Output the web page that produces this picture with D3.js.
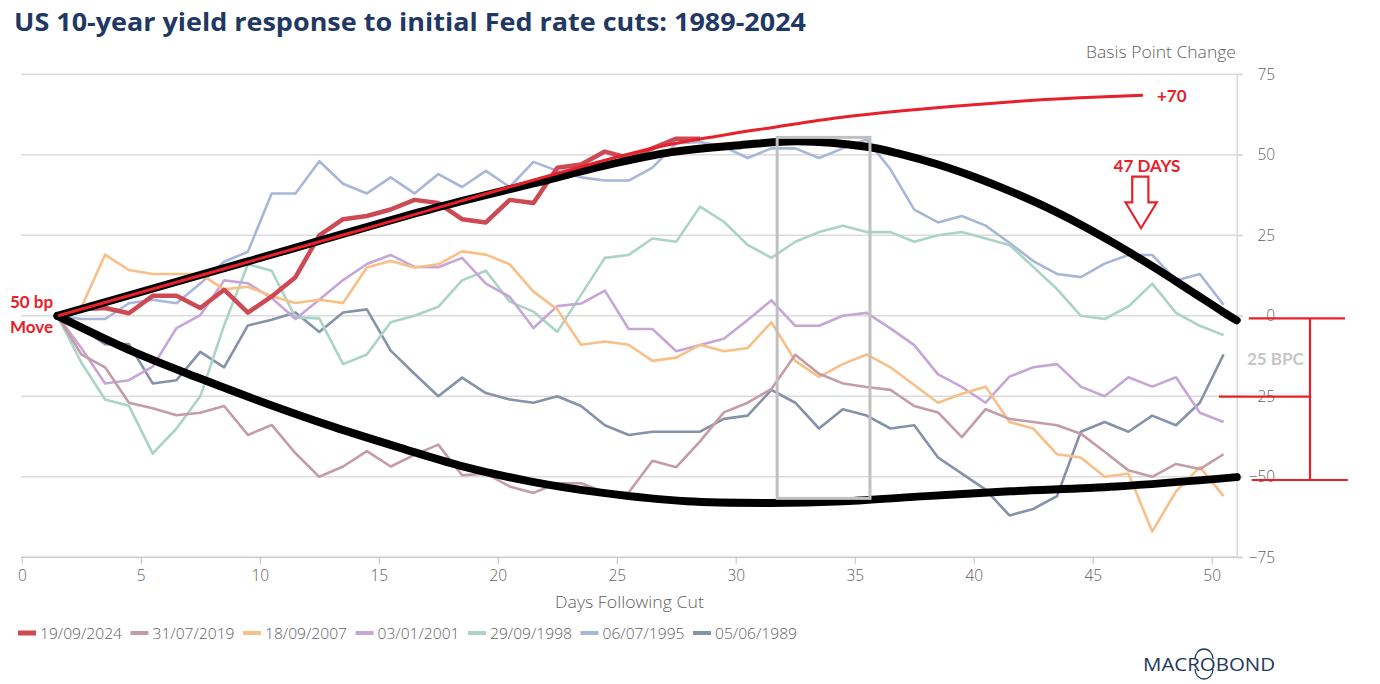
<!DOCTYPE html>
<html><head><meta charset="utf-8">
<script src="https://cdn.jsdelivr.net/npm/d3@7"></script>
<style>
body{margin:0;background:#fff;}
svg{display:block;font-family:'Open Sans',sans-serif;}
</style></head><body>
<svg id="chart" width="1380" height="684"></svg>
<script>
// ---------------- DATA ----------------
const days = [1.5,2.5,3.5,4.5,5.5,6.5,7.5,8.5,9.5,10.5,11.5,12.5,13.5,14.5,15.5,16.5,17.5,18.5,19.5,20.5,
  21.5,22.5,23.5,24.5,25.5,26.5,27.5,28.5,29.5,30.5,31.5,32.5,33.5,34.5,35.5,36.5,37.5,38.5,39.5,40.5,
  41.5,42.5,43.5,44.5,45.5,46.5,47.5,48.5,49.5,50.5];
const seriesNames = ["19/09/2024","31/07/2019","18/09/2007","03/01/2001","29/09/1998","06/07/1995","05/06/1989"];
const seriesColors = ["#cd4a55","#c49ca6","#f9bf88","#c6a6d6","#aad4c5","#a8b6d8","#8592aa"];
const cut2024 = [0,2,2.4,0.8,6.2,6.2,2.4,8.1,1,6,12,25,30,31,33,36,35,30,29,36,35,46,47,51,49,52,55,55];
const cut2019 = [0,-12,-16,-27,-28.7,-30.9,-30.1,-28,-37,-33.9,-42.7,-50,-46.8,-42,-46.8,-43.2,-40,-49.5,-49,-53,
  -55,-52,-52,-54.8,-54.9,-45,-47,-39,-30,-27,-22.7,-12.1,-18,-21,-22.1,-23,-28,-30,-37.7,-29,
  -32,-33,-34,-36.6,-42.2,-48,-50,-46,-47.6,-43];
const cut2007 = [0,2.6,19,14.2,13,13,13,8.2,9,6.1,4,5,4,15,17,15,16,20,19,16,
  7.5,2,-9,-8,-9,-14,-13,-9,-11,-10,-2,-14,-19,-15,-12,-16,-21.5,-27,-24.2,-22,
  -33,-35,-43,-44,-50,-49,-67,-54.5,-47,-56];
const cut2001 = [0,-10,-21,-20,-15.8,-3.8,0.2,11,10.1,5.5,-1,5,11.1,16.1,18.9,15.2,15.1,18,10,5.9,
  -3.8,3,3.8,7.8,-4.1,-4.1,-11,-9.1,-7.1,-1.3,4.8,-3.1,-3.1,0,0.9,-3.9,-9.1,-18.2,-22.1,-27,
  -18.9,-16,-15,-22,-25,-19.1,-22,-19.1,-30.1,-33];
const cut1998 = [0,-14.5,-26,-27.9,-42.8,-35,-25,-3,16,14,-0.5,-0.8,-15,-12,-2,0,2.8,11,14,4.4,
  1.3,-5,6.5,18,18.9,24,23,33.9,29.2,22,18,23,26,28,26,26,23,25,26,24,
  22,15.2,8.3,0,-1,2.9,10,0.9,-3.1,-6];
const cut1995 = [0,-1,-1,3.9,5,3.9,10,16.8,19.9,38,38,48,41,38,43,38,44,40,45,40,
  47.8,45,43,42,42,46,53.5,54,52.5,49,52,52,49,52,54.8,45.5,33,29,31,28,
  22.7,17,13,12,16.2,18.9,18.9,11,13,3.4];
const cut1989 = [0,-4,-8.8,-8.8,-21,-20,-11.2,-16,-3,-1.2,1,-5,1,2,-10.8,-18,-25,-19.2,-24,-26,
  -27,-25,-28,-34,-37,-36,-36,-36,-32,-31,-23,-27,-35,-29,-31,-35,-34,-44,-49,-54,
  -62,-60,-56,-36,-33,-36,-31,-34,-27,-12];
const seriesValues = [cut2024,cut2019,cut2007,cut2001,cut1998,cut1995,cut1989];

const xTicks = [0,5,10,15,20,25,30,35,40,45,50];
const yTicks = [75,50,25,0,-25,-50,-75];

// hand-drawn annotation curves (day, bp)
const upperTrendX = [1.5,9.5,17.57,21.49,24.58,27.37,30.18,32.6,35.5,36.9,38.5,40,41.5,43,44.5,46,47.5,49,50.5,51.05];
const upperTrendY = [0,16.9,33.9,41.1,46.8,50.9,53,54.2,52.5,50.3,47,43.2,38.8,33.9,28.3,22.1,15.4,8.3,1.1,-1.4];
const lowerTrendX = [1.5,4.7,7.5,10.3,13.1,15.9,18.4,21.35,24.43,27.94,31.44,34.52,38.02,41.52,46,51.05];
const lowerTrendY = [0,-11.2,-19.5,-27.3,-34.5,-41,-46.5,-51.4,-55,-57.6,-58.1,-57.6,-56,-54.5,-53,-50.1];
const redTrendX = [1.52,13.8,26.18,29.46,31.56,34.38,36.9,41.65,44.46,47.11];
const redTrendY = [0,25.7,51.5,56.1,58.5,61.6,63.6,66.5,67.7,68.5];
const boxX = [31.74,35.64];
const boxY = [55.4,-56.7];

// ---------------- CHART ----------------
const svg = d3.select("#chart");
const x = d3.scaleLinear().domain([0,51.05]).range([21.8,1236.7]);
const y = d3.scaleLinear().domain([-75,75]).range([557.3,74.3]);
const RED = "#e8202a";
const GREY_TXT = "#5f5f5f";

// gridlines
svg.append("g").selectAll("line").data(yTicks.filter(v=>v>-75)).join("line")
  .attr("x1",21).attr("x2",1243).attr("y1",d=>y(d)).attr("y2",d=>y(d))
  .attr("stroke","#dcdcdc").attr("stroke-width",1.4);

// x axis
const xAxis = svg.append("g").attr("transform",`translate(0,${y(-75)})`)
  .call(d3.axisBottom(x).tickValues(xTicks).tickSize(7).tickSizeOuter(0).tickPadding(6));
xAxis.select(".domain").attr("d",`M21,0H1243`).attr("stroke","#c9c9c9").attr("stroke-width",1.4);
xAxis.selectAll(".tick line").attr("stroke","#c9c9c9").attr("stroke-width",1.2);
xAxis.selectAll(".tick text").attr("font-size",15.5).attr("font-weight",300).attr("fill",GREY_TXT)
  .attr("font-family","'Open Sans',sans-serif");

// right y axis
const yAxis = svg.append("g").attr("transform",`translate(${x(51.05)},0)`)
  .call(d3.axisRight(y).tickValues(yTicks).tickSize(6).tickSizeOuter(0));
yAxis.select(".domain").attr("stroke","#d9d9d9").attr("stroke-width",1.4);
yAxis.selectAll(".tick line").attr("stroke","#d9d9d9").attr("stroke-width",1.4);
yAxis.selectAll(".tick text").attr("x",38.5).attr("text-anchor","end").attr("font-size",15.5)
  .attr("font-weight",300).attr("fill",GREY_TXT).attr("font-family","'Open Sans',sans-serif");

svg.append("text").attr("x",1086).attr("y",58)
  .attr("font-size",15.5).attr("font-weight",300).attr("fill",GREY_TXT)
  .attr("textLength",150).attr("lengthAdjust","spacingAndGlyphs").text("Basis Point Change");
svg.append("text").attr("x",555).attr("y",608)
  .attr("font-size",15.5).attr("font-weight",300).attr("fill",GREY_TXT)
  .attr("textLength",149).attr("lengthAdjust","spacingAndGlyphs").text("Days Following Cut");

// series
const line = d3.line().x(d=>x(d[0])).y(d=>y(d[1]));
const order = [6,5,4,3,2,1,0];
svg.append("g").selectAll("path").data(order).join("path")
  .attr("d",i=>line(seriesValues[i].map((v,k)=>[days[k],v])))
  .attr("fill","none").attr("stroke",i=>seriesColors[i])
  .attr("stroke-width",i=>i===0?4.5:2.6).attr("stroke-linejoin","round");

// trend annotations
const curve = d3.line().x(d=>x(d[0])).y(d=>y(d[1])).curve(d3.curveCatmullRom.alpha(0.5));
svg.append("path").attr("d",curve(upperTrendX.map((v,k)=>[v,upperTrendY[k]])))
  .attr("fill","none").attr("stroke","#000").attr("stroke-width",8).attr("stroke-linecap","round");
svg.append("path").attr("d",curve(lowerTrendX.map((v,k)=>[v,lowerTrendY[k]])))
  .attr("fill","none").attr("stroke","#000").attr("stroke-width",8).attr("stroke-linecap","round");
svg.append("path").attr("d",curve(redTrendX.map((v,k)=>[v,redTrendY[k]])))
  .attr("fill","none").attr("stroke",RED).attr("stroke-width",3);

// highlight box
svg.append("rect").attr("x",x(boxX[0])).attr("y",y(boxY[0]))
  .attr("width",x(boxX[1])-x(boxX[0])).attr("height",y(boxY[1])-y(boxY[0]))
  .attr("fill","none").attr("stroke","#c0c0c0").attr("stroke-width",3);

// 47 days arrow
const arrowPts = [[46.66,43.2],[47.34,43.2],[47.34,35.2],[47.69,35.2],[47.03,27.2],[46.38,35.2],[46.66,35.2]];
svg.append("path").attr("d",d3.line().x(d=>x(d[0])).y(d=>y(d[1]))(arrowPts)+"Z")
  .attr("fill","#fff").attr("stroke",RED).attr("stroke-width",2.2);

const lbl = (tx,ty,t,anchor,fill)=>svg.append("text").attr("x",tx).attr("y",ty)
  .attr("text-anchor",anchor||"start").attr("font-family","Lato,sans-serif").attr("font-weight",700)
  .attr("font-size",17).attr("fill",fill||RED).text(t);
lbl(1147,172,"47 DAYS","middle");
lbl(1157,102,"+70");
lbl(10,308,"50 bp");
lbl(10,333,"Move");
lbl(1247,365,"25 BPC","start","#c6c6c6");

// bracket
const bracket = [
  [[51.56,-0.8],[55.6,-0.8]],
  [[50.3,-25.1],[54.13,-25.1]],
  [[51.68,-51],[55.72,-51]],
  [[54.13,-0.8],[54.13,-51]]
];
svg.append("g").selectAll("line").data(bracket).join("line")
  .attr("x1",d=>x(d[0][0])).attr("x2",d=>x(d[1][0])).attr("y1",d=>y(d[0][1])).attr("y2",d=>y(d[1][1]))
  .attr("stroke",RED).attr("stroke-width",2.2);

// title
svg.append("text").attr("x",14).attr("y",31).attr("font-size",25).attr("font-weight",700)
  .attr("fill","#1f3864").attr("textLength",792).attr("lengthAdjust","spacingAndGlyphs")
  .text("US 10-year yield response to initial Fed rate cuts: 1989-2024");

// legend
const leg = svg.append("g");
seriesNames.forEach((n,i)=>{
  const lx = 18 + i*112.5;
  leg.append("line").attr("x1",lx).attr("x2",lx+18).attr("y1",633).attr("y2",633)
    .attr("stroke",seriesColors[i]).attr("stroke-width",i===0?5:4);
  leg.append("text").attr("x",lx+22).attr("y",638.5).attr("font-size",15)
    .attr("font-weight",300).attr("fill",GREY_TXT)
    .attr("textLength",82).attr("lengthAdjust","spacingAndGlyphs").text(n);
});

// logo
const logo = svg.append("g");
logo.append("text").attr("x",1143).attr("y",671).attr("font-size",18).attr("font-weight",500)
  .attr("fill","#22385e").attr("textLength",132).attr("lengthAdjust","spacingAndGlyphs").text("MACROBOND");
logo.append("path").attr("d","M1195,659 A9,10 0 0 1 1213,659").attr("fill","none").attr("stroke","#22385e").attr("stroke-width",1.3);
logo.append("path").attr("d","M1195,669 A9,10 0 0 0 1213,669").attr("fill","none").attr("stroke","#22385e").attr("stroke-width",1.3);
</script>
</body></html>
